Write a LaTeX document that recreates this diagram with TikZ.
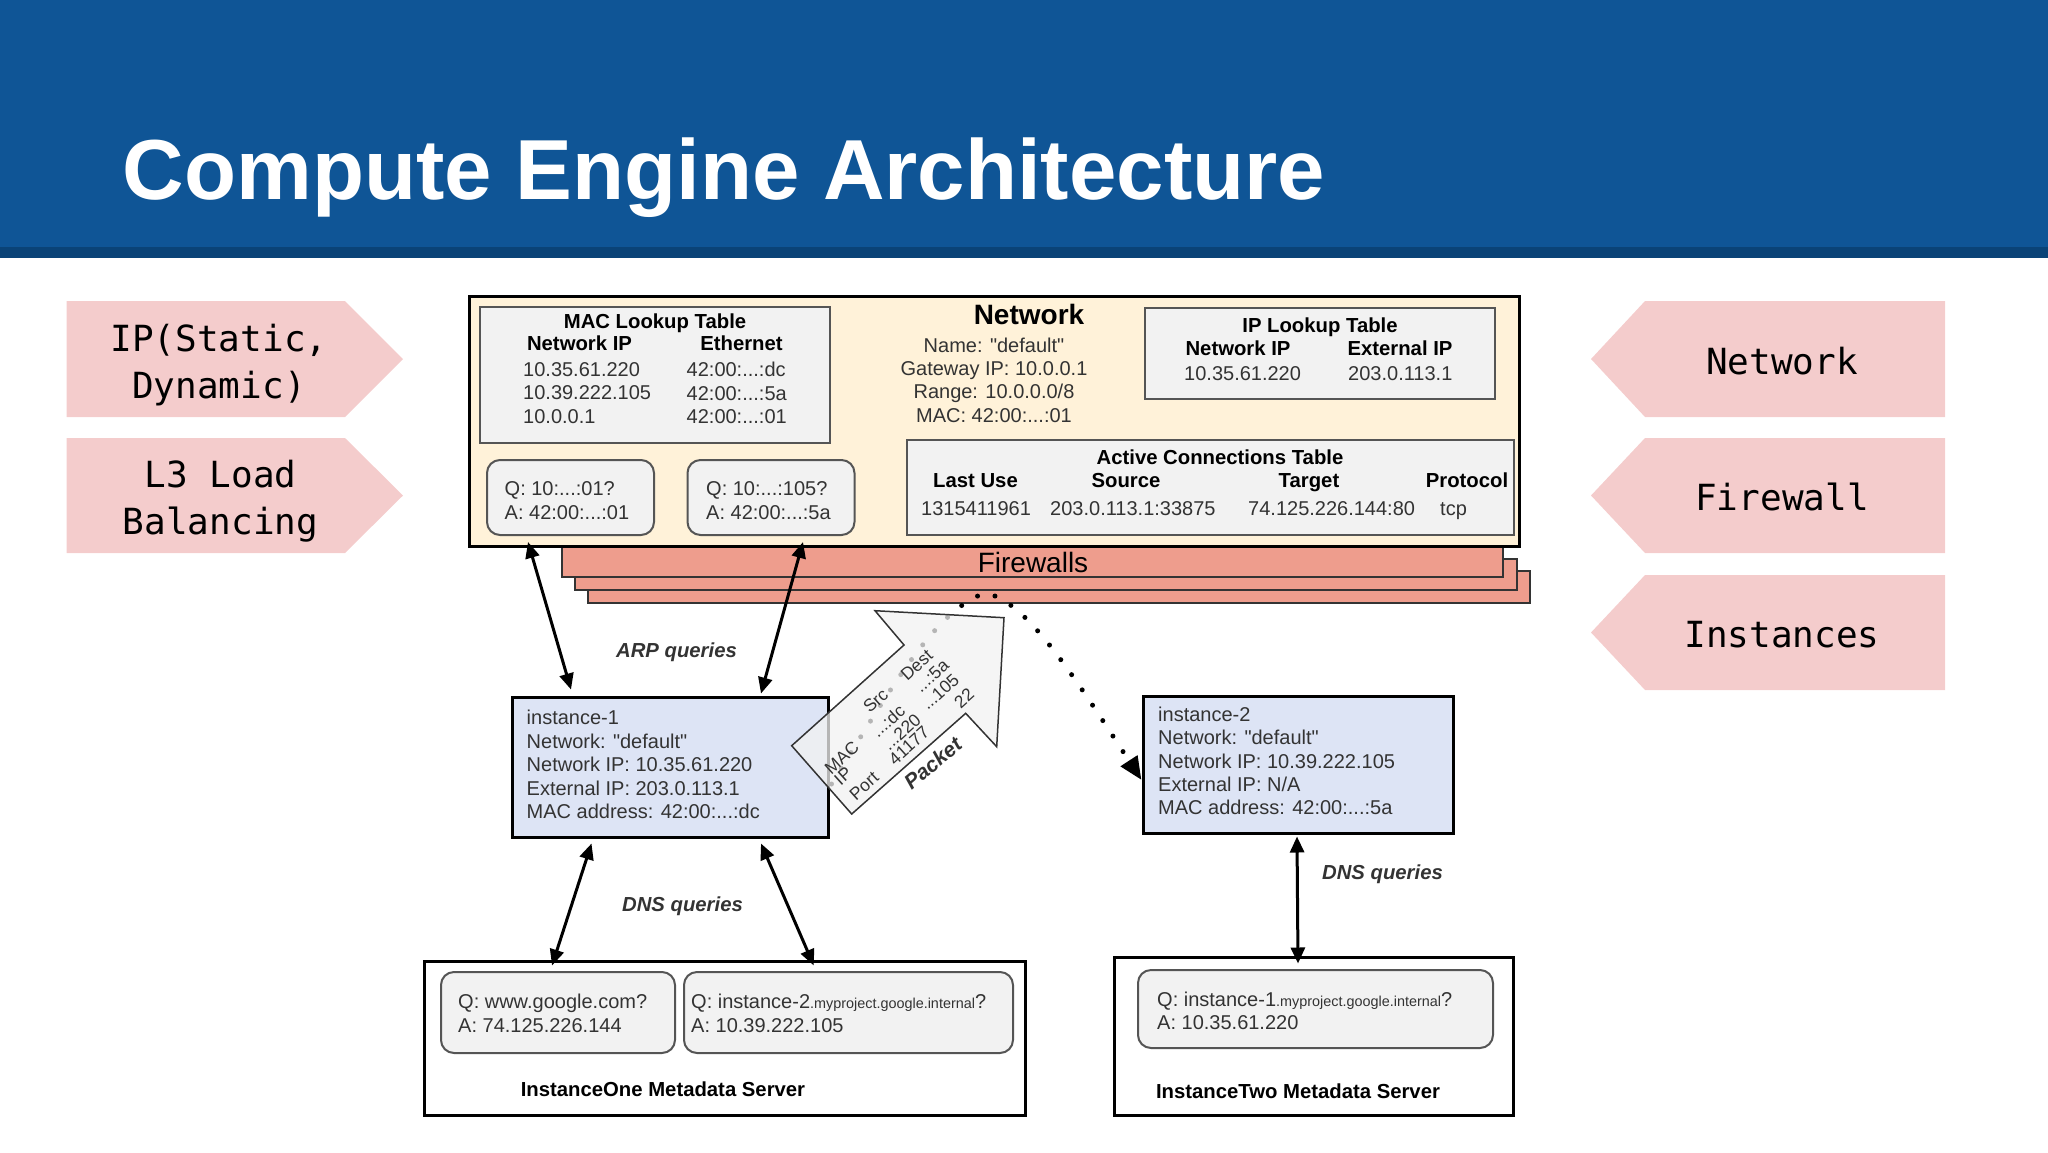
\documentclass[tikz,border=0pt]{standalone}
\usepackage{fontspec}
\setmainfont{Liberation Sans}
\newfontfamily\tagfam{DejaVu Sans Mono}
\usetikzlibrary{arrows.meta}

\definecolor{headblue}{HTML}{0F5596}
\definecolor{headdark}{HTML}{0A4377}
\definecolor{tagpink}{HTML}{F4CCCC}
\definecolor{netcream}{HTML}{FFF2D9}
\definecolor{tablegray}{HTML}{F2F2F2}
\definecolor{fwred}{HTML}{EE9D8D}
\definecolor{instblue}{HTML}{DDE4F5}
\definecolor{textgray}{HTML}{333333}
\definecolor{edgegray}{HTML}{555555}

\tikzset{
	netbox/.style={draw=black,line width=3pt,fill=netcream,inner sep=0pt},
	tablebox/.style={draw=edgegray,line width=2pt,fill=tablegray,inner sep=0pt},
	askbox/.style={tablebox,rounded corners=13pt},
	fwbox/.style={draw=textgray,line width=1.5pt,fill=fwred,inner sep=0pt},
	instbox/.style={draw=black,line width=3pt,fill=instblue,inner sep=0pt},
	metabox/.style={draw=black,line width=3pt,fill=white,inner sep=0pt},
	plain/.style={font=\fontsize{20}{23.4}\selectfont,text=textgray,inner sep=0pt,align=left},
	pack/.style={font=\fontsize{17.5}{20}\selectfont,text=textgray,inner sep=0pt,rotate=42},
	head/.style={font=\fontsize{20.3}{23.4}\bfseries\selectfont,text=black,inner sep=0pt,text height=15pt,text depth=4pt},
	query/.style={font=\fontsize{20.3}{23.4}\bfseries\itshape\selectfont,text=textgray,inner sep=0pt,text height=15pt,text depth=4pt},
	tag/.style={font=\fontsize{36}{47}\tagfam\selectfont,text=black,inner sep=0pt,align=center},
	biarrow/.style={line width=3pt,black,{Triangle[length=16pt,width=14pt]}-{Triangle[length=16pt,width=14pt]}},
}

\begin{document}
\begin{tikzpicture}[x=1pt,y=-1pt]
	\useasboundingbox (0,0) rectangle (2048,1152);

	% header
	\fill[headblue] (0,0) rectangle (2048,247);
	\fill[headdark] (0,247) rectangle (2048,258);
	\node[anchor=base west,inner sep=0pt,text=white,font=\fontsize{85.2}{90}\bfseries\selectfont] (title) at (122.5,199) {Compute Engine Architecture};

	% pink tags
	\fill[tagpink] (66.5,301) -- (345,301) -- (403,359) -- (345,417) -- (66.5,417) -- cycle;
	\fill[tagpink] (66.5,438) -- (345,438) -- (403,495.5) -- (345,553) -- (66.5,553) -- cycle;
	\fill[tagpink] (1945,301) -- (1645,301) -- (1591,359) -- (1645,417) -- (1945,417) -- cycle;
	\fill[tagpink] (1945,438) -- (1645,438) -- (1591,495.5) -- (1645,553) -- (1945,553) -- cycle;
	\fill[tagpink] (1945,575) -- (1645,575) -- (1591,632.5) -- (1645,690) -- (1945,690) -- cycle;
	\node[tag] (tagip) at (219,365) {IP(Static,\\Dynamic)};
	\node[tag] (tagl3) at (220.5,501) {L3 Load\\Balancing};
	\node[tag] (tagnet) at (1782,361) {Network};
	\node[tag] (tagfw) at (1782,497) {Firewall};
	\node[tag] (taginst) at (1782,635) {Instances};

	% firewalls behind the network
	\node[fwbox,minimum width=942pt,minimum height=32pt] (fw3) at (1059,587) {};
	\node[fwbox,minimum width=942pt,minimum height=31pt] (fw2) at (1046,574.5) {};
	\node[fwbox,minimum width=941pt,minimum height=37pt] (fw1) at (1032.5,558.5) {};
	\node[font=\fontsize{28}{30}\selectfont,text=black,inner sep=0pt] (fwlabel) at (1033,562.5) {Firewalls};

	% network
	\node[netbox,minimum width=1050pt,minimum height=250pt] (net) at (994,421.5) {};
	\node[font=\fontsize{28}{30}\bfseries\selectfont,inner sep=0pt] (nettitle) at (1029,314) {Network};
	\node[plain,align=center] (netinfo) at (994,380) {Name: \textquotedbl default\textquotedbl\\Gateway IP: 10.0.0.1\\Range: 10.0.0.0/8\\MAC: 42:00:...:01};

	\node[tablebox,minimum width=350pt,minimum height=136pt] (mactable) at (654.5,375) {};
	\node[head] (mactitle) at (655,322.5) {MAC Lookup Table};
	\node[head] (macip) at (579.5,345) {Network IP};
	\node[head] (maceth) at (741.5,345) {Ethernet};
	\node[plain,anchor=west] (macrow1) at (523,393) {10.35.61.220\\10.39.222.105\\10.0.0.1};
	\node[plain,anchor=west] (macrow2) at (686.5,393) {42:00:...:dc\\42:00:...:5a\\42:00:...:01};

	\node[tablebox,minimum width=350pt,minimum height=91pt] (iptable) at (1320,353.5) {};
	\node[head] (iptitle) at (1320,327) {IP Lookup Table};
	\node[head] (ipnet) at (1238,350) {Network IP};
	\node[head] (ipext) at (1400,350) {External IP};
	\node[plain,anchor=west] (iprow1) at (1184,374) {10.35.61.220};
	\node[plain,anchor=west] (iprow2) at (1348,374) {203.0.113.1};

	\node[tablebox,minimum width=607pt,minimum height=95pt] (conntable) at (1210.5,487.5) {};
	\node[head] (conntitle) at (1220,458.5) {Active Connections Table};
	\node[head] (connuse) at (975.5,481.5) {Last Use};
	\node[head] (connsrc) at (1126,481.5) {Source};
	\node[head] (conntgt) at (1309,481.5) {Target};
	\node[head] (connproto) at (1467,481.5) {Protocol};
	\node[plain,anchor=west] (connrow1) at (921,509) {1315411961};
	\node[plain,anchor=west] (connrow2) at (1050,509) {203.0.113.1:33875};
	\node[plain,anchor=west] (connrow3) at (1248,509) {74.125.226.144:80};
	\node[plain,anchor=west] (connrow4) at (1440,511) {tcp};

	\node[askbox,minimum width=167pt,minimum height=75pt] (arp1) at (570.5,497.5) {};
	\node[askbox,minimum width=167pt,minimum height=75pt] (arp2) at (771,497.5) {};
	\node[plain,anchor=west] (arp1txt) at (504.5,500.5) {Q: 10:...:01?\\A: 42:00:...:01};
	\node[plain,anchor=west] (arp2txt) at (706,500.5) {Q: 10:...:105?\\A: 42:00:...:5a};

	% instances
	\node[instbox,minimum width=316pt,minimum height=140pt] (inst1) at (670,767) {};
	\node[plain,anchor=west] (inst1txt) at (526.5,764.5) {instance-1\\Network: \textquotedbl default\textquotedbl\\Network IP: 10.35.61.220\\External IP: 203.0.113.1\\MAC address: 42:00:...:dc};
	\node[instbox,minimum width=310pt,minimum height=137pt] (inst2) at (1298,764.5) {};
	\node[plain,anchor=west] (inst2txt) at (1158,761) {instance-2\\Network: \textquotedbl default\textquotedbl\\Network IP: 10.39.222.105\\External IP: N/A\\MAC address: 42:00:...:5a};

	% metadata servers
	\node[metabox,minimum width=601pt,minimum height=154pt] (meta1) at (724.75,1038) {};
	\node[askbox,minimum width=234pt,minimum height=81pt] (dnsq1) at (558,1012.5) {};
	\node[askbox,minimum width=329pt,minimum height=81pt] (dnsq2) at (848.5,1012.5) {};
	\node[plain,anchor=west] (dnsq1txt) at (458,1013.5) {Q: www.google.com?\\A: 74.125.226.144};
	\node[plain,anchor=west] (dnsq2txt) at (691,1013.5) {Q: instance-2{\fontsize{14.4}{16}\selectfont .myproject.google.internal}?\\A: 10.39.222.105};
	\node[head] (meta1txt) at (663,1091) {InstanceOne Metadata Server};

	\node[metabox,minimum width=399pt,minimum height=158pt] (meta2) at (1313.5,1036) {};
	\node[askbox,minimum width=355pt,minimum height=78pt] (dnsq3) at (1315.5,1009) {};
	\node[plain,anchor=west] (dnsq3txt) at (1157,1011) {Q: instance-1{\fontsize{14.4}{16}\selectfont .myproject.google.internal}?\\A: 10.35.61.220};
	\node[head] (meta2txt) at (1298,1092.5) {InstanceTwo Metadata Server};

	% query arrows
	\draw[biarrow] ([xshift=-466pt,yshift=6pt]net.south) -- ([xshift=-99pt,yshift=6pt]inst1.north);
	\draw[biarrow] ([xshift=-191pt,yshift=6pt]net.south) -- ([xshift=91pt,yshift=2pt]inst1.north);
	\draw[biarrow] ([xshift=-78.5pt,yshift=-5pt]inst1.south) -- ([xshift=-172.75pt,yshift=-6pt]meta1.north);
	\draw[biarrow] ([xshift=91pt,yshift=-5pt]inst1.south) -- ([xshift=89pt,yshift=-6pt]meta1.north);
	\draw[biarrow] ([xshift=-1pt,yshift=-2pt]inst2.south) -- ([xshift=-15.5pt,yshift=-8pt]meta2.north);
	\node[query] (arptxt) at (676.5,652) {ARP queries};
	\node[query] (dnstxt1) at (682.5,905.5) {DNS queries};
	\node[query] (dnstxt2) at (1382.5,873.5) {DNS queries};

	% packet route through the firewall
	\coordinate (fwtop) at (985,593);
	\draw[line width=5pt,line cap=round,dash pattern=on 0pt off 18.5pt,-{Triangle[length=23pt,width=19pt]}] ([xshift=2pt,yshift=-17pt]inst1.east) .. controls (890,690) and (935,610) .. (fwtop) .. controls (1025,600) and (1070,670) .. ([yshift=-15.5pt]inst2.west);

	% packet
	\draw[draw=textgray,line width=1.5pt,fill=tablegray,fill opacity=0.75] (791.7,745.7) -- (904,645) -- (875,610.7) -- (1004,617.7) -- (996.7,746.7) -- (965.7,713.3) -- (851.7,814) -- cycle;
	\node[pack] (pkmac) at (841.7,757.7) {MAC};
	\node[pack] (pkip) at (843,776) {IP};
	\node[pack] (pkport) at (864,786) {Port};
	\node[pack] (pksrc) at (875.7,700.7) {Src};
	\node[pack] (pksrc1) at (888,720.7) {...:dc};
	\node[pack] (pksrc2) at (901.7,732) {...220};
	\node[pack] (pksrc3) at (909,745.7) {41177};
	\node[pack] (pkdest) at (916.7,665) {Dest};
	\node[pack] (pkdest1) at (931.7,676) {...:5a};
	\node[pack] (pkdest2) at (940,691.7) {...105};
	\node[pack] (pkdest3) at (964,698) {22};
	\node[font=\fontsize{21}{23}\bfseries\itshape\selectfont,text=textgray,inner sep=0pt,rotate=40] (pktitle) at (932.7,763) {Packet};
\end{tikzpicture}
\end{document}
